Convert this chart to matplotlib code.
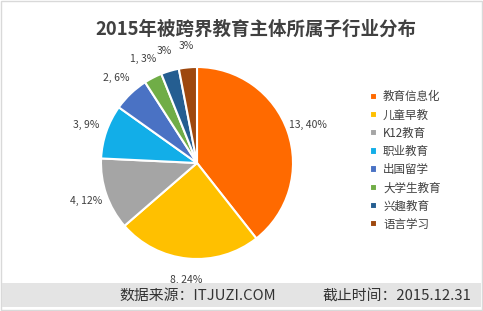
import matplotlib
matplotlib.use("Agg")
import matplotlib.pyplot as plt
from matplotlib.patches import Rectangle

plt.rcParams['font.family'] = ['Noto Sans CJK SC', 'DejaVu Sans']

# data
categories = ['教育信息化', '儿童早教', 'K12教育', '职业教育', '出国留学', '大学生教育', '兴趣教育', '语言学习']
counts = [13, 8, 4, 3, 2, 1, 1, 1]
label_text = ['13, 40%', '8, 24%', '4, 12%', '3, 9%', '2, 6%', '1, 3%', '3%', '3%']
colors = ['#FF6A00', '#FFC000', '#A5A5A5', '#12AEE8', '#4A72C4', '#70AD47', '#255E91', '#9E480E']

W, H = 483, 311
fig = plt.figure(figsize=(W / 100, H / 100), dpi=100)
fig.patch.set_facecolor('white')

# frame + footer band
fig.patches.append(Rectangle((1 / W, 1 / H), 481 / W, 309 / H, transform=fig.transFigure,
                             fill=False, edgecolor='#d9d9d9', lw=1))
fig.patches.append(Rectangle((2 / W, (H - 307) / H), 479 / W, 24 / H, transform=fig.transFigure,
                             facecolor='#e4e4e4', edgecolor='none'))

fig.text(256 / W, 1 - 29 / H, '2015年被跨界教育主体所属子行业分布', ha='center', va='center',
         fontsize=13.3, fontweight='bold', color='#404040')

# pie
cx, cy, r = 197, 163, 96
ax = fig.add_axes([(cx - r) / W, (H - cy - r) / H, 2 * r / W, 2 * r / H])
wedges, texts = ax.pie(counts, colors=colors, startangle=90, counterclock=False,
                       labels=label_text, labeldistance=1.22,
                       wedgeprops=dict(edgecolor='white', linewidth=1.5),
                       textprops=dict(fontsize=7.5, color='#404040'))
for t in texts:
    t.set_ha('center')
    t.set_va('center')
    t.set_clip_on(False)
ax.set_xlim(-1, 1)
ax.set_ylim(-1, 1)
ax.set_aspect('equal')
ax.axis('off')

leg = fig.legend(wedges, categories, loc='upper left', bbox_to_anchor=(360 / W, 1 - 80 / H),
                 frameon=False, fontsize=8.3, handlelength=0.6, handleheight=0.6,
                 handletextpad=0.5, labelspacing=0.45, labelcolor='#404040')

fig.text(198 / W, 1 - 296 / H, '数据来源：ITJUZI.COM', ha='center', va='center',
         fontsize=10.7, color='#333333')
fig.text(397 / W, 1 - 296 / H, '截止时间：2015.12.31', ha='center', va='center',
         fontsize=10.7, color='#333333')

fig.savefig('out.png', dpi=100)
